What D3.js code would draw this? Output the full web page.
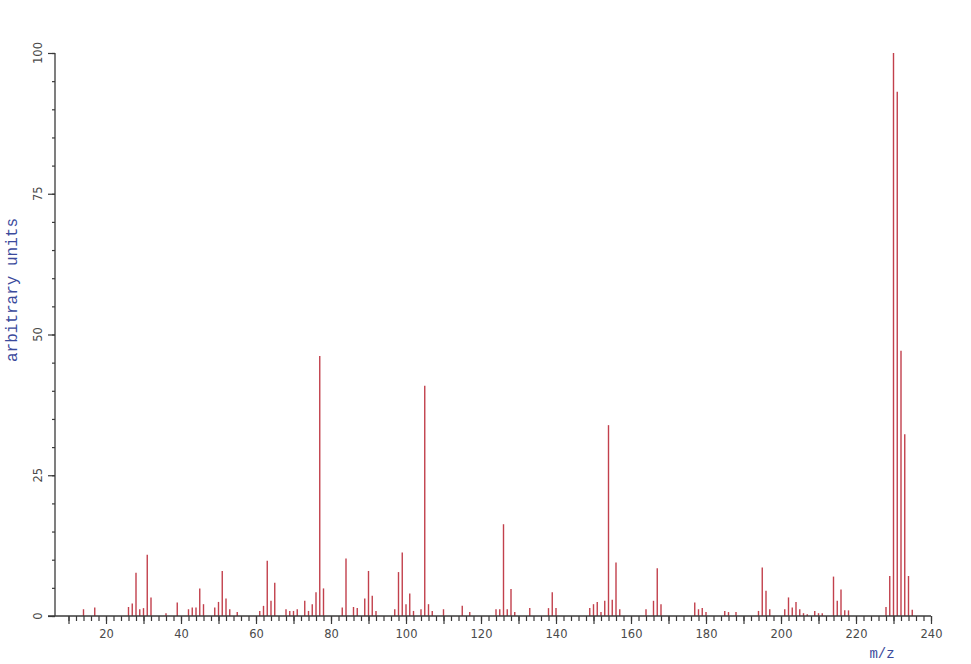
<!DOCTYPE html>
<html>
<head>
<meta charset="utf-8">
<script src="https://cdn.jsdelivr.net/npm/d3@7"></script>
<style>
  html, body { margin: 0; padding: 0; background: #ffffff; }
  svg { display: block; }
</style>
</head>
<body>
<svg id="chart" width="971" height="664"></svg>
<script>
// m/z values of the peaks
const mzValues = [14,17,26,27,28,29,30,31,32,36,39,42,43,44,45,46,49,50,51,52,53,55,
  61,62,63,64,65,68,69,70,71,73,74,75,76,77,78,83,84,86,87,89,90,91,92,
  97,98,99,100,101,102,104,105,106,107,110,115,117,124,125,126,127,128,129,133,
  138,139,140,149,150,151,152,153,154,155,156,157,164,166,167,168,
  177,178,179,180,185,186,188,194,195,196,197,201,202,203,204,205,206,207,
  209,210,211,214,215,216,217,218,228,229,230,231,232,233,234,235];
// relative intensities (arbitrary units)
const intensities = [1.2,1.5,1.6,2.2,7.7,1.2,1.4,10.9,3.3,0.5,2.4,1.2,1.5,1.5,4.9,2.1,1.5,2.5,8.0,3.1,1.2,0.7,
  0.9,1.8,9.8,2.7,5.9,1.2,0.9,0.9,1.2,2.7,0.9,2.1,4.2,46.2,4.9,1.5,10.2,1.6,1.4,3.1,8.0,3.6,0.9,
  1.2,7.8,11.3,2.1,4.0,0.9,1.2,40.9,2.1,0.9,1.2,1.8,0.7,1.2,1.2,16.3,1.2,4.8,0.7,1.4,
  1.4,4.2,1.4,1.4,2.1,2.5,0.7,2.7,33.9,2.9,9.5,1.2,1.2,2.7,8.5,2.1,
  2.4,1.2,1.4,0.7,0.9,0.7,0.7,0.9,8.6,4.5,1.2,1.2,3.3,1.5,2.5,1.2,0.5,0.3,
  0.9,0.5,0.5,7.0,2.7,4.7,1.0,1.0,1.6,7.1,100,93.1,47.1,32.3,7.1,1.1];
const xMinorTicks = d3.range(10, 241, 2);
const xMajorTicks = d3.range(10, 241, 10);
const xLabelTicks = [20,40,60,80,100,120,140,160,180,200,220,240];
const yMinorTicks = d3.range(0, 101, 5);
const yLabelTicks = [0, 25, 50, 75, 100];
const xTitle = "m/z";
const yTitle = "arbitrary units";

const peaks = mzValues.map((m, i) => ({ mz: m, v: intensities[i] }));

const svg = d3.select("#chart");
const x = d3.scaleLinear().domain([0, 240]).range([31, 931]);
const y = d3.scaleLinear().domain([0, 100]).range([616, 53]);

const axisColor = "#3a3a3a";
const labelColor = "#4a4a4a";
const titleColor = "#3b4a9c";
const yAxisX = 55;

// peaks
svg.append("g")
  .selectAll("line")
  .data(peaks)
  .join("line")
  .attr("x1", d => x(d.mz)).attr("x2", d => x(d.mz))
  .attr("y1", y(0)).attr("y2", d => y(d.v))
  .attr("stroke", "#c2404c")
  .attr("stroke-width", 1.4);

// x axis - minor ticks
const gxMinor = svg.append("g").attr("transform", `translate(0,${y(0)})`)
  .call(d3.axisBottom(x).tickValues(xMinorTicks).tickSize(5).tickFormat(""));
// x axis - major ticks with labels
const gxMajor = svg.append("g").attr("transform", `translate(0,${y(0)})`)
  .call(d3.axisBottom(x).tickValues(xMajorTicks).tickSize(8).tickPadding(6)
    .tickFormat(d => xLabelTicks.includes(d) ? d : ""));
[gxMinor, gxMajor].forEach(g => {
  g.select(".domain").remove();
  g.selectAll(".tick line").attr("stroke", axisColor).attr("stroke-width", 1.2);
});
gxMajor.selectAll(".tick text")
  .attr("fill", labelColor)
  .style("font-family", "'DejaVu Sans', Verdana, sans-serif")
  .style("font-size", "11.5px");

// y axis - minor and major ticks
const gyMinor = svg.append("g").attr("transform", `translate(${yAxisX},0)`)
  .call(d3.axisLeft(y).tickValues(yMinorTicks).tickSize(3).tickFormat(""));
const gyMajor = svg.append("g").attr("transform", `translate(${yAxisX},0)`)
  .call(d3.axisLeft(y).tickValues(yLabelTicks).tickSize(7).tickFormat(""));
[gyMinor, gyMajor].forEach(g => {
  g.select(".domain").remove();
  g.selectAll(".tick line").attr("stroke", axisColor).attr("stroke-width", 1.2);
});
// rotated y tick labels
svg.append("g")
  .selectAll("text")
  .data(yLabelTicks)
  .join("text")
  .attr("transform", d => `translate(42,${y(d)}) rotate(-90)`)
  .attr("text-anchor", "middle")
  .attr("fill", labelColor)
  .style("font-family", "'DejaVu Sans', Verdana, sans-serif")
  .style("font-size", "11.5px")
  .text(d => d);

// axis lines
svg.append("line")
  .attr("x1", yAxisX).attr("x2", yAxisX)
  .attr("y1", y(100)).attr("y2", y(0))
  .attr("stroke", axisColor).attr("stroke-width", 1.3);
svg.append("line")
  .attr("x1", 48).attr("x2", x(240))
  .attr("y1", y(0)).attr("y2", y(0))
  .attr("stroke", axisColor).attr("stroke-width", 1.3);

// titles
svg.append("text")
  .attr("transform", `translate(17,${290}) rotate(-90)`)
  .attr("text-anchor", "middle")
  .attr("fill", titleColor)
  .style("font-family", "'Liberation Mono', 'DejaVu Sans Mono', monospace")
  .style("font-size", "16px")
  .text(yTitle);
svg.append("text")
  .attr("x", 882).attr("y", 658)
  .attr("text-anchor", "middle")
  .attr("fill", titleColor)
  .style("font-family", "'Liberation Mono', 'DejaVu Sans Mono', monospace")
  .style("font-size", "14px")
  .text(xTitle);
</script>
</body>
</html>
